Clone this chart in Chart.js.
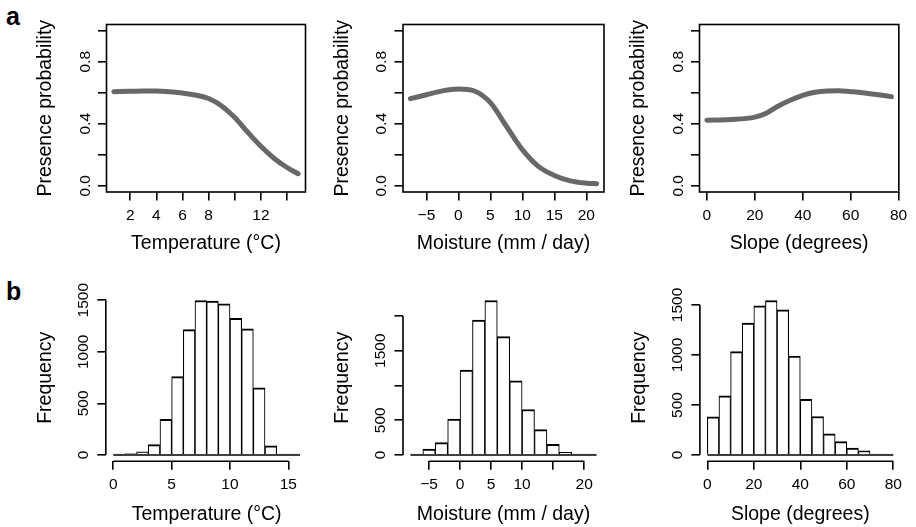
<!DOCTYPE html>
<html>
<head>
<meta charset="utf-8">
<script src="https://cdn.jsdelivr.net/npm/chart.js@4.4.1/dist/chart.umd.min.js"></script>
<style>
  body { margin: 0; background: #fff; width: 916px; height: 527px; position: relative; overflow: hidden;
         font-family: "Liberation Sans", Arial, Helvetica, sans-serif; }
  canvas { position: absolute; }
  .tag { position: absolute; font-weight: bold; font-size: 25px; line-height: 25px; color: #000; }
</style>
</head>
<body>
<div class="tag" style="left:6px;top:4px">a</div>
<div class="tag" style="left:6px;top:279px">b</div>
<canvas id="a1"></canvas>
<canvas id="a2"></canvas>
<canvas id="a3"></canvas>
<canvas id="b1"></canvas>
<canvas id="b2"></canvas>
<canvas id="b3"></canvas>
<script>
// ---- data ----
const probTicks = [0, 0.2, 0.4, 0.6, 0.8, 1];
const probLabels = ['0.0', '', '0.4', '', '0.8', ''];

const tempX = [0.75, 2, 3, 4, 5, 6, 7, 8, 9, 10, 11, 12, 13, 14, 14.85];
const tempP = [0.607, 0.609, 0.611, 0.611, 0.607, 0.598, 0.585, 0.563, 0.515, 0.44, 0.345, 0.255, 0.178, 0.118, 0.078];
const tempTicksTop = [2, 4, 6, 8, 10, 12, 14];
const tempLabelsTop = ['2', '4', '6', '8', '', '12', ''];

const moistX = [-7.5, -5, -2.5, 0, 2.5, 5, 7.5, 10, 12.5, 15, 17.5, 20, 21.6];
const moistP = [0.562, 0.587, 0.612, 0.624, 0.611, 0.536, 0.384, 0.233, 0.125, 0.067, 0.032, 0.017, 0.013];
const moistTicksTop = [-5, 0, 5, 10, 15, 20];
const moistLabelsTop = ['\u22125', '0', '5', '10', '15', '20'];

const slopeX = [0, 10, 20, 25, 30, 35, 40, 45, 50, 55, 60, 65, 70, 77];
const slopeP = [0.423, 0.427, 0.443, 0.47, 0.516, 0.553, 0.583, 0.603, 0.612, 0.613, 0.607, 0.6, 0.59, 0.575];
const slopeTicks = [0, 20, 40, 60, 80];
const slopeLabels = ['0', '20', '40', '60', '80'];

// histograms: first bin edge, bin width, counts
const tempStart = 0, tempWidth = 1;
const tempCounts = [3, 15, 30, 100, 345, 760, 1215, 1497, 1490, 1465, 1325, 1222, 650, 90, 10, 2];
const tempTicksHist = [0, 5, 10, 15];
const tempLabelsHist = ['0', '5', '10', '15'];

const moistStart = -8, moistWidth = 2;
const moistCounts = [15, 87, 178, 515, 1222, 1942, 2222, 1702, 1067, 654, 365, 154, 38, 12, 4];
const moistTicksHist = [-5, 0, 5, 10, 15, 20];
const moistLabelsHist = ['\u22125', '0', '5', '10', '', '20'];

const slopeStart = 0, slopeWidth = 5;
const slopeCounts = [381, 592, 1033, 1318, 1491, 1545, 1451, 990, 558, 385, 211, 134, 70, 43, 3, 3];

const freqTicks1 = [0, 500, 1000, 1500];
const freqLabels1 = ['0', '500', '1000', '1500'];
const freqTicks2 = [0, 500, 1000, 1500, 2000];
const freqLabels2 = ['0', '500', '', '1500', ''];

// ---- drawing ----
const FONT = '"Liberation Sans", Arial, Helvetica, sans-serif';
const TICK = 15.5, TITLE = 19.5;

function extend(lo, hi) { const d = (hi - lo) * 0.04; return [lo - d, hi + d]; }

// R-style frame / axis lines, histogram baseline and rotated y tick labels
const rPlot = {
  id: 'rPlot',
  afterDraw(chart, args, o) {
    const { ctx, chartArea: a, scales: { x, y } } = chart;
    ctx.save();
    ctx.strokeStyle = '#000';
    ctx.lineWidth = 1.6;
    if (o.box) {
      ctx.strokeRect(a.left, a.top, a.right - a.left, a.bottom - a.top);
    } else {
      ctx.beginPath();
      ctx.moveTo(x.getPixelForValue(o.xTicks[0]), a.bottom);
      ctx.lineTo(x.getPixelForValue(o.xTicks[o.xTicks.length - 1]), a.bottom);
      ctx.moveTo(a.left, y.getPixelForValue(o.yTicks[0]));
      ctx.lineTo(a.left, y.getPixelForValue(o.yTicks[o.yTicks.length - 1]));
      ctx.stroke();
    }
    if (o.baseline) {
      ctx.beginPath();
      ctx.moveTo(x.getPixelForValue(o.baseline[0]), y.getPixelForValue(0));
      ctx.lineTo(x.getPixelForValue(o.baseline[1]), y.getPixelForValue(0));
      ctx.stroke();
    }
    ctx.fillStyle = '#000';
    ctx.font = TICK + 'px ' + FONT;
    ctx.textAlign = 'center';
    ctx.textBaseline = 'middle';
    o.yTicks.forEach((v, i) => {
      if (!o.yLabels[i]) return;
      ctx.save();
      ctx.translate(a.left - o.yGap, y.getPixelForValue(v));
      ctx.rotate(-Math.PI / 2);
      ctx.fillText(o.yLabels[i], 0, 0);
      ctx.restore();
    });
    ctx.restore();
  }
};

function makePanel(id, p) {
  const top = p.row === 0;
  const x0 = Math.floor(p.l - 78), x1 = Math.ceil(p.r + 14);
  const y0 = top ? 0 : 268, y1 = top ? 262 : 527;
  const mid = top ? 243.7 : 514.7;
  const W = x1 - x0, H = y1 - y0;
  const cv = document.getElementById(id);
  cv.width = W; cv.height = H;
  cv.style.left = x0 + 'px'; cv.style.top = y0 + 'px';

  const padLeft = p.l - 70.25 - x0;
  const padBottom = y0 + H - 9.75 - mid;
  const yW = p.l - x0 - padLeft;
  const xH = mid + 9.75 - p.b;

  const gridOpts = { display: true, drawOnChartArea: false, drawTicks: true, tickLength: 8.5, color: '#000', lineWidth: 1.6, offset: false };
  return new Chart(cv, {
    type: p.type,
    data: { datasets: [p.dataset] },
    options: {
      responsive: false,
      animation: false,
      events: [],
      layout: { padding: { left: padLeft, right: x1 - p.r, top: p.t - y0, bottom: padBottom } },
      plugins: {
        legend: { display: false },
        tooltip: { enabled: false },
        rPlot: { box: top, xTicks: p.xTicks, yTicks: p.yTicks, yLabels: p.yLabels, yGap: top ? 21 : 22, baseline: p.baseline }
      },
      scales: {
        x: {
          type: 'linear', min: p.xRange[0], max: p.xRange[1], offset: false,
          afterBuildTicks: s => { s.ticks = p.xTicks.map(v => ({ value: v })); },
          afterFit: s => { s.height = xH; },
          grid: gridOpts,
          border: { display: false },
          ticks: {
            autoSkip: false, maxRotation: 0, minRotation: 0, padding: 7.75, color: '#000',
            font: { family: FONT, size: TICK, lineHeight: 1 },
            callback: (v, i) => p.xLabels[i]
          },
          title: { display: true, text: p.xTitle, color: '#000', padding: 0, font: { family: FONT, size: TITLE, lineHeight: 1 } }
        },
        y: {
          type: 'linear', min: p.yRange[0], max: p.yRange[1],
          afterBuildTicks: s => { s.ticks = p.yTicks.map(v => ({ value: v })); },
          afterFit: s => { s.width = yW; },
          grid: gridOpts,
          border: { display: false },
          ticks: { display: false },
          title: { display: true, text: p.yTitle, color: '#000', padding: 0, font: { family: FONT, size: TITLE, lineHeight: 1 } }
        }
      }
    },
    plugins: [rPlot]
  });
}

function curve(xs, ys) {
  return {
    data: xs.map((x, i) => ({ x, y: ys[i] })),
    borderColor: '#686868', borderWidth: 5, borderCapStyle: 'round', borderJoinStyle: 'round',
    pointRadius: 0, fill: false, cubicInterpolationMode: 'monotone'
  };
}

function hist(start, width, counts) {
  return {
    data: counts.map((c, i) => ({ x: start + (i + 0.5) * width, y: c })),
    backgroundColor: '#fff', borderColor: '#000',
    borderWidth: { top: 2, bottom: 0, left: 1.1, right: 1.1 },
    borderSkipped: false, minBarLength: 1,
    barPercentage: 1, categoryPercentage: 1
  };
}

function histRange(start, width, counts) {
  return extend(start, start + width * counts.length);
}
function histEdges(start, width, counts) {
  return [start, start + width * counts.length];
}
function freqRange(counts) {
  const m = Math.max(...counts);
  return [-0.04 * m, 1.04 * m];
}

const probRange = extend(0, 1);

makePanel('a1', { row: 0, type: 'line', l: 106.5, r: 305.5, t: 24.5, b: 192,
  xRange: extend(tempX[0], tempX[tempX.length - 1]), yRange: probRange,
  xTicks: tempTicksTop, xLabels: tempLabelsTop, yTicks: probTicks, yLabels: probLabels,
  xTitle: 'Temperature (\u00B0C)', yTitle: 'Presence probability', dataset: curve(tempX, tempP) });

makePanel('a2', { row: 0, type: 'line', l: 403, r: 604, t: 24.5, b: 192,
  xRange: extend(moistX[0], moistX[moistX.length - 1]), yRange: probRange,
  xTicks: moistTicksTop, xLabels: moistLabelsTop, yTicks: probTicks, yLabels: probLabels,
  xTitle: 'Moisture (mm / day)', yTitle: 'Presence probability', dataset: curve(moistX, moistP) });

makePanel('a3', { row: 0, type: 'line', l: 699.5, r: 901, t: 24.5, b: 192,
  xRange: extend(slopeX[0], slopeX[slopeX.length - 1]), yRange: probRange,
  xTicks: slopeTicks, xLabels: slopeLabels, yTicks: probTicks, yLabels: probLabels,
  xTitle: 'Slope (degrees)', yTitle: 'Presence probability', dataset: curve(slopeX, slopeP) });

makePanel('b1', { row: 1, type: 'bar', l: 105.8, r: 307.5, t: 294.3, b: 461.2,
  xRange: histRange(tempStart, tempWidth, tempCounts), yRange: freqRange(tempCounts),
  baseline: histEdges(tempStart, tempWidth, tempCounts),
  xTicks: tempTicksHist, xLabels: tempLabelsHist, yTicks: freqTicks1, yLabels: freqLabels1,
  xTitle: 'Temperature (\u00B0C)', yTitle: 'Frequency', dataset: hist(tempStart, tempWidth, tempCounts) });

makePanel('b2', { row: 1, type: 'bar', l: 403, r: 604, t: 294.3, b: 461.2,
  xRange: histRange(moistStart, moistWidth, moistCounts), yRange: freqRange(moistCounts),
  baseline: histEdges(moistStart, moistWidth, moistCounts),
  xTicks: moistTicksHist, xLabels: moistLabelsHist, yTicks: freqTicks2, yLabels: freqLabels2,
  xTitle: 'Moisture (mm / day)', yTitle: 'Frequency', dataset: hist(moistStart, moistWidth, moistCounts) });

makePanel('b3', { row: 1, type: 'bar', l: 699.9, r: 900.7, t: 294.3, b: 461.2,
  xRange: histRange(slopeStart, slopeWidth, slopeCounts), yRange: freqRange(slopeCounts),
  baseline: histEdges(slopeStart, slopeWidth, slopeCounts),
  xTicks: slopeTicks, xLabels: slopeLabels, yTicks: freqTicks1, yLabels: freqLabels1,
  xTitle: 'Slope (degrees)', yTitle: 'Frequency', dataset: hist(slopeStart, slopeWidth, slopeCounts) });
</script>
</body>
</html>
